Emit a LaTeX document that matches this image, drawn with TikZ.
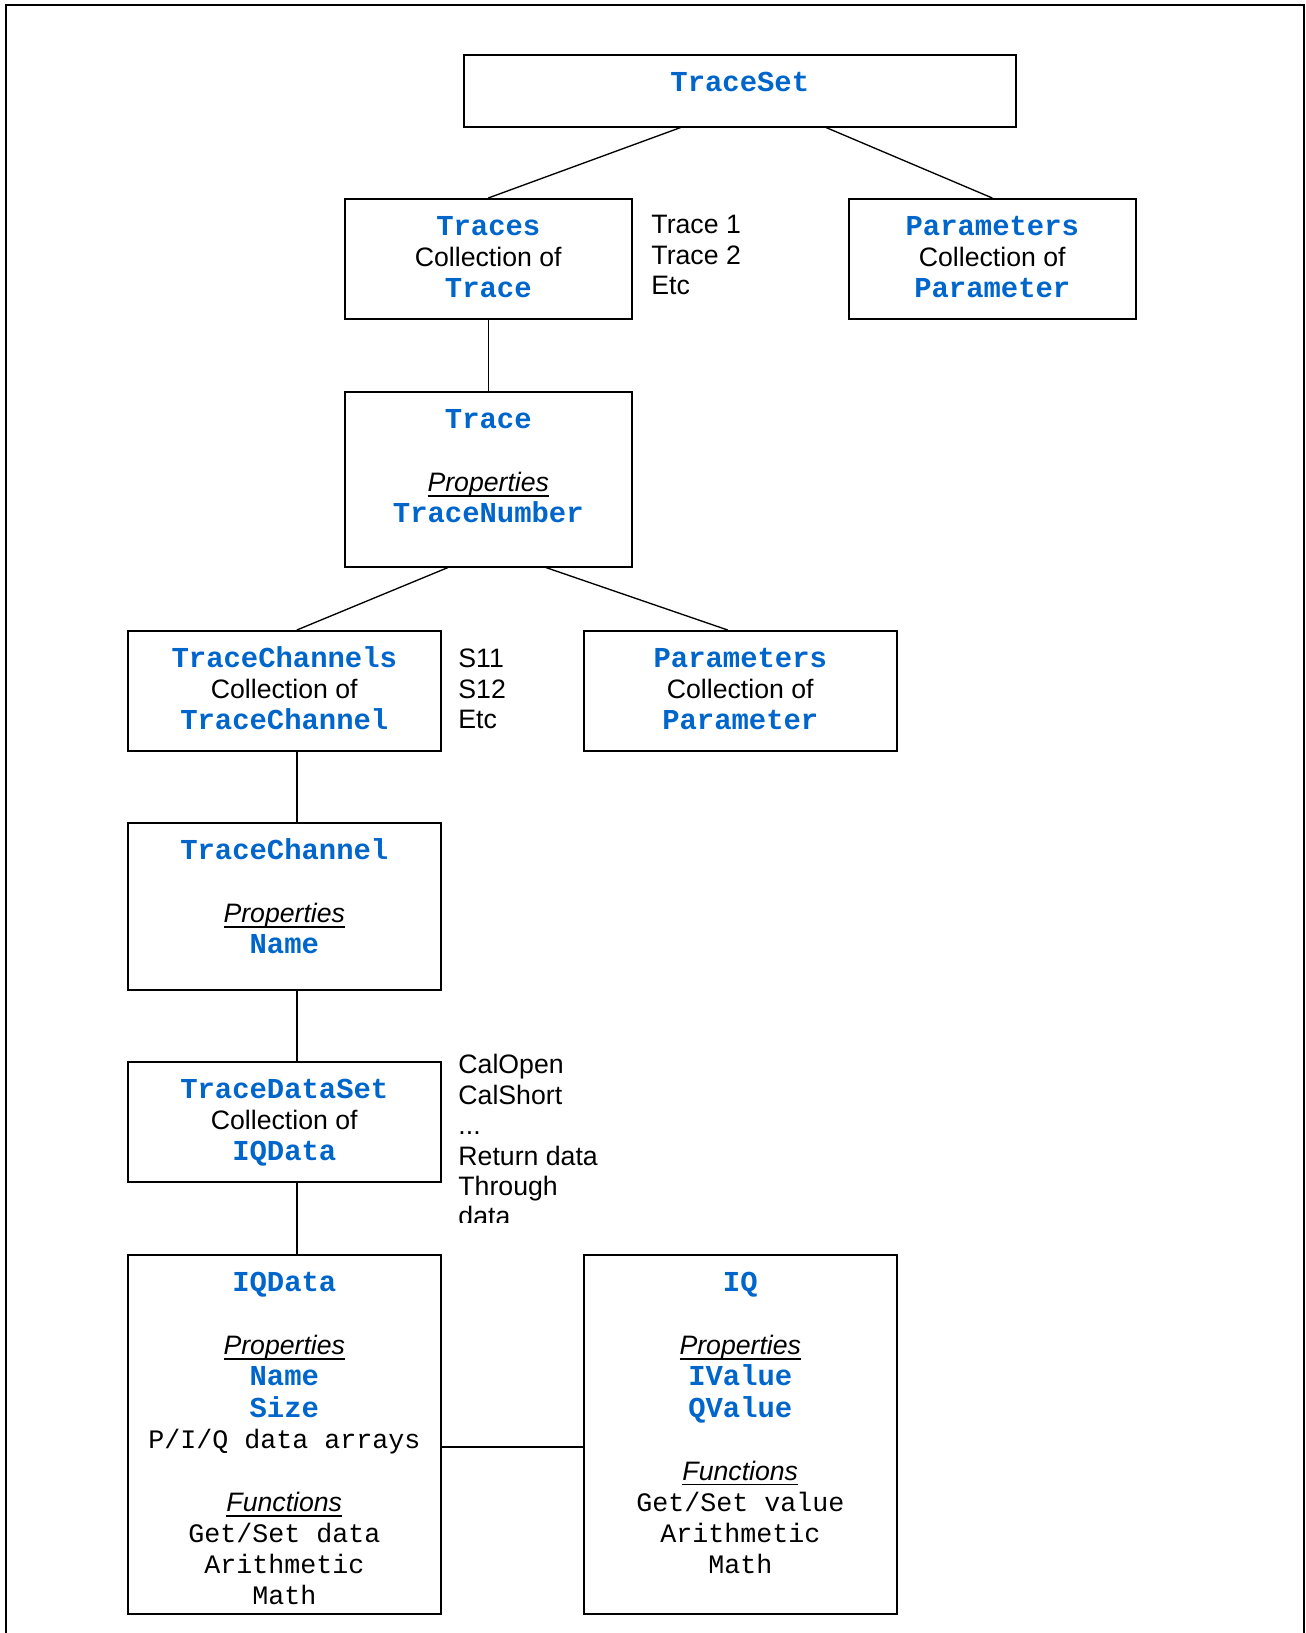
\documentclass[tikz,border=0pt]{standalone}
\usepackage{fontspec}
\setmainfont{Liberation Sans}
\setmonofont{Liberation Mono}
\usepackage{xcolor}
\usepackage{tikz}
\usetikzlibrary{calc}
\definecolor{objblue}{RGB}{0,102,204}
\newlength\pxu
\setlength\pxu{0.45pt}
\newsavebox\hdrbox
\newcommand{\obj}[1]{{\ttfamily\bfseries\fontsize{13}{14}\selectfont\color{objblue}#1}}
\newcommand{\fnline}[1]{{\ttfamily #1}}
\newcommand{\hdr}[1]{\leavevmode\sbox\hdrbox{\textit{#1}}\rlap{\rule[-2.3pt]{\wd\hdrbox}{0.7pt}}\usebox\hdrbox}
\newcommand{\boxtext}[3]{\parbox[t][#2\pxu][t]{#1\pxu}{\centering\fontsize{12}{14}\selectfont\rule{0pt}{16.5pt}#3}}
\tikzstyle{objbox} = [draw, 
line width=0.7pt, 
inner sep=0pt, 
anchor=north west]
\tikzstyle{note} = [align=left, 
inner sep=0pt, 
anchor=north west, 
font=\fontsize{12}{13.7}\selectfont]
\tikzstyle{link} = [line width=0.6pt]

\begin{document}
\begin{tikzpicture}[x=0.45pt, y=-0.45pt]
\useasboundingbox (0,0) rectangle (1306,1633);
% page frame, open at the bottom
\draw[line width=0.7pt] (6,1650) -- (6,5) -- (1304,5) -- (1304,1650);

\node (traceset) [objbox] at (463,54) {\boxtext{552}{72}{\obj{TraceSet}}};
\node (traces) [objbox] at (344,198) {\boxtext{287}{120}{\obj{Traces}\\Collection of\\\obj{Trace}}};
\node (params1) [objbox] at (848,198) {\boxtext{287}{120}{\obj{Parameters}\\Collection of\\\obj{Parameter}}};
\node (trace) [objbox] at (344,391) {\boxtext{287}{175}{\obj{Trace}\\[14.5pt]\hdr{Properties}\\\obj{TraceNumber}}};
\node (channels) [objbox] at (127,630) {\boxtext{313}{120}{\obj{TraceChannels}\\Collection of\\\obj{TraceChannel}}};
\node (params2) [objbox] at (583,630) {\boxtext{313}{120}{\obj{Parameters}\\Collection of\\\obj{Parameter}}};
\node (channel) [objbox] at (127,822) {\boxtext{313}{167}{\obj{TraceChannel}\\[14.5pt]\hdr{Properties}\\\obj{Name}}};
\node (dataset) [objbox] at (127,1061) {\boxtext{313}{120}{\obj{TraceDataSet}\\Collection of\\\obj{IQData}}};
\node (iqdata) [objbox] at (127,1254) {\boxtext{313}{359}{\obj{IQData}\\[14.5pt]\hdr{Properties}\\\obj{Name}\\\obj{Size}\\\fnline{P/I/Q data arrays}\\[14.5pt]\hdr{Functions}\\\fnline{Get/Set data}\\\fnline{Arithmetic}\\\fnline{Math}}};
\node (iq) [objbox] at (583,1254) {\boxtext{313}{359}{\obj{IQ}\\[14.5pt]\hdr{Properties}\\\obj{IValue}\\\obj{QValue}\\[14.5pt]\hdr{Functions}\\\fnline{Get/Set value}\\\fnline{Arithmetic}\\\fnline{Math}}};

% notes beside the collections
\node (tracelist) [note] at (651,211) {\rule{0pt}{10pt}Trace 1\\Trace 2\\Etc};
\node (chanlist) [note] at (458,645) {\rule{0pt}{10pt}S11\\S12\\Etc};
\begin{scope}
\clip (440,1030) rectangle (720,1222);
\node (datalist) [note] at (458,1051) {\rule{0pt}{10pt}CalOpen\\CalShort\\...\\Return data\\Through\\data};
\end{scope}

\draw [link] ($(traceset.south west)!0.393!(traceset.south east)$) -- (traces.north);
\draw [link] ($(traceset.south west)!0.656!(traceset.south east)$) -- (params1.north);
\draw [link] (traces.south) -- (trace.north);
\draw [link] ($(trace.south west)!0.36!(trace.south east)$) -- ($(channels.north west)!0.54!(channels.north east)$);
\draw [link] ($(trace.south west)!0.70!(trace.south east)$) -- ($(params2.north west)!0.46!(params2.north east)$);
\draw [link] ($(channels.south west)!0.54!(channels.south east)$) -- ($(channel.north west)!0.54!(channel.north east)$);
\draw [link] ($(channel.south west)!0.54!(channel.south east)$) -- ($(dataset.north west)!0.54!(dataset.north east)$);
\draw [link] ($(dataset.south west)!0.54!(dataset.south east)$) -- ($(iqdata.north west)!0.54!(iqdata.north east)$);
\draw [link] ($(iqdata.north east)!0.535!(iqdata.south east)$) -- ($(iq.north west)!0.535!(iq.south west)$);
\end{tikzpicture}
\end{document}
